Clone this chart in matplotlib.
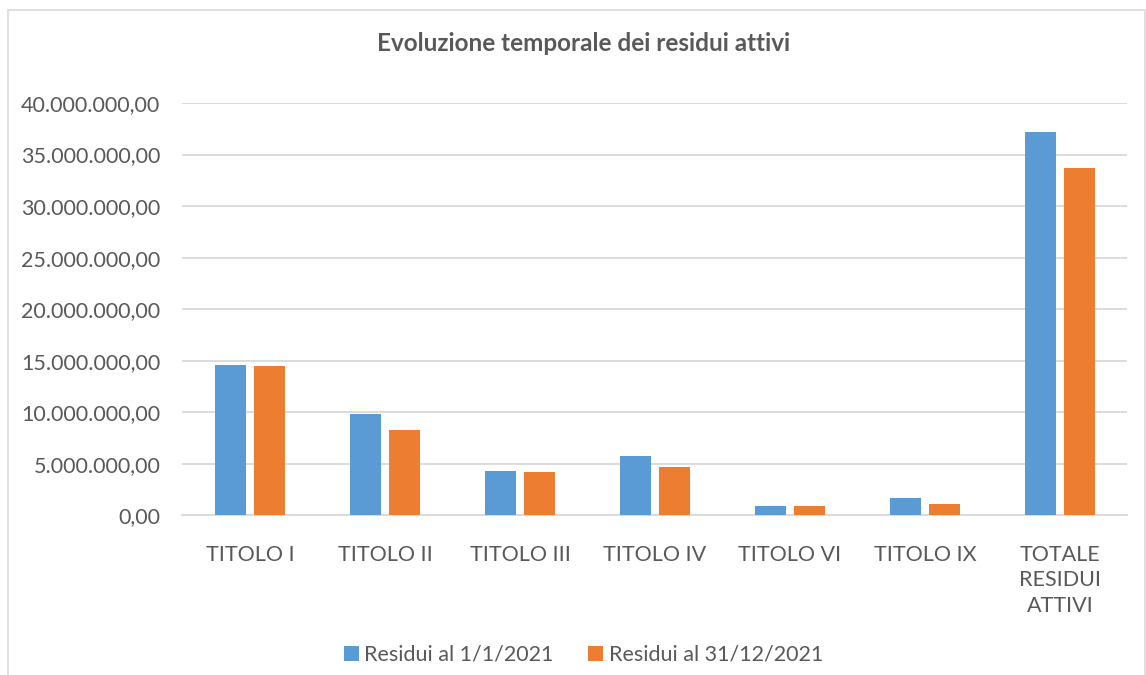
import numpy as np
import matplotlib.pyplot as plt
from matplotlib.patches import Rectangle
from matplotlib.ticker import FuncFormatter

# Dati
categorie = ["TITOLO I", "TITOLO II", "TITOLO III", "TITOLO IV", "TITOLO VI", "TITOLO IX",
             "TOTALE\nRESIDUI\nATTIVI"]
residui_inizio = [14610000, 9850000, 4320000, 5800000, 940000, 1720000, 37170000]
residui_fine = [14510000, 8300000, 4220000, 4700000, 940000, 1140000, 33670000]
etichette = ["Residui al 1/1/2021", "Residui al 31/12/2021"]

plt.rcParams['font.family'] = ['Lato', 'DejaVu Sans']
grigio = '#595959'

fig = plt.figure(figsize=(11.46, 6.75), dpi=100)
ax = fig.add_axes([0.1592, 0.2363, 0.8246, 0.6111])

# Bordo del grafico
fig.patches.append(Rectangle((0.007, -0.02), 0.992, 1.005, transform=fig.transFigure,
                             fill=False, edgecolor='#d9d9d9', linewidth=1.2))

x = np.arange(len(categorie))
w = 0.23
ax.bar(x - 0.145, residui_inizio, w, color='#5b9bd5', label=etichette[0], zorder=3)
ax.bar(x + 0.145, residui_fine, w, color='#ed7d31', label=etichette[1], zorder=3)

ax.set_xlim(-0.5, len(categorie) - 0.5)
ax.set_ylim(0, 40000000)
ax.set_yticks(np.arange(0, 40000001, 5000000))

def fmt(v, pos):
    s = f"{v:,.2f}"
    return s.replace(",", "X").replace(".", ",").replace("X", ".")

ax.yaxis.set_major_formatter(FuncFormatter(fmt))
ax.grid(axis='y', color='#d9d9d9', linewidth=1.3, zorder=0)
for s in ['top', 'right', 'left']:
    ax.spines[s].set_visible(False)
ax.spines['bottom'].set_color('#d9d9d9')
ax.spines['bottom'].set_linewidth(1.3)

ax.set_xticks(x)
ax.set_xticklabels(categorie, fontsize=15.5, color=grigio, linespacing=1.35, va='top')
ax.tick_params(axis='x', length=0, pad=21)
ax.tick_params(axis='y', length=0, pad=16, labelsize=15.5, labelcolor=grigio)

fig.text(0.509, 0.936, "Evoluzione temporale dei residui attivi", ha='center', va='center',
         fontsize=17.5, fontweight='bold', color=grigio)

fig.legend(loc='center', bbox_to_anchor=(0.509, 0.03), ncol=2, frameon=False,
           fontsize=15.5, labelcolor=grigio, handlelength=0.7, handleheight=0.7,
           handletextpad=0.25, columnspacing=1.6)

plt.savefig("out.png", dpi=100)
